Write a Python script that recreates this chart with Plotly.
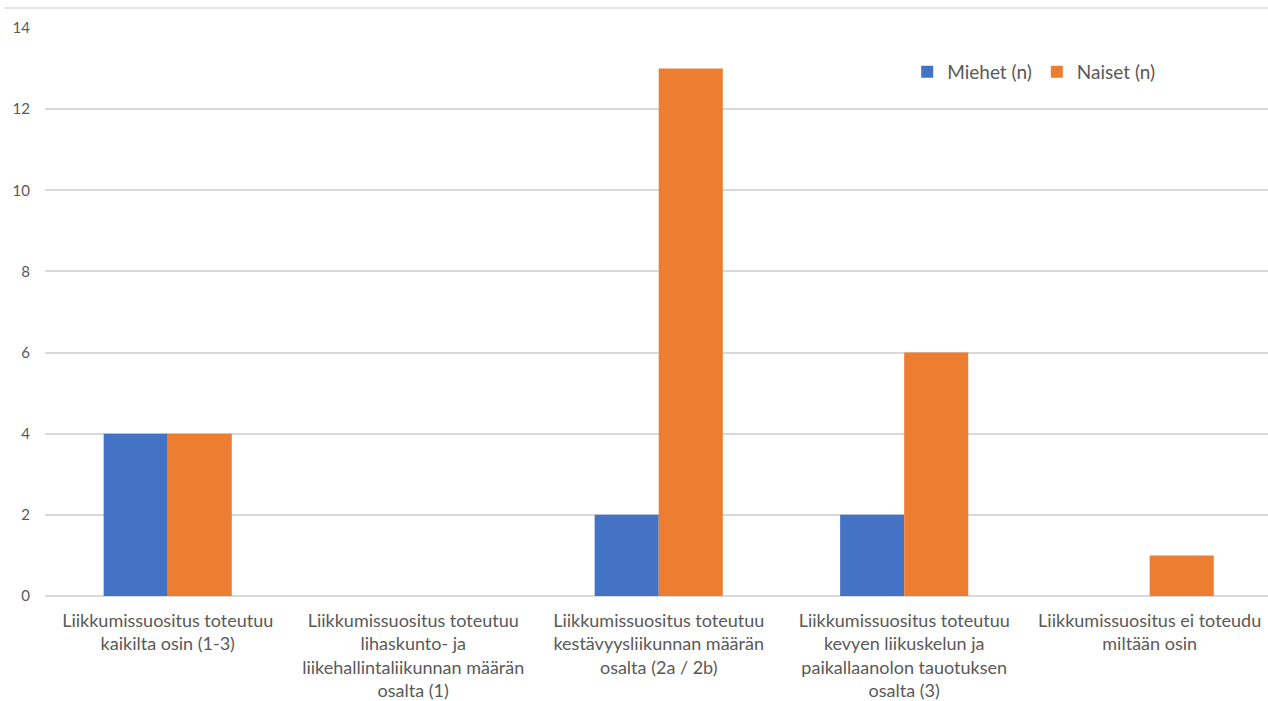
import plotly.graph_objects as go

categories = [
    "Liikkumissuositus toteutuu<br>kaikilta osin (1-3)",
    "Liikkumissuositus toteutuu<br>lihaskunto- ja<br>liikehallintaliikunnan määrän<br>osalta (1)",
    "Liikkumissuositus toteutuu<br>kestävyysliikunnan määrän<br>osalta (2a / 2b)",
    "Liikkumissuositus toteutuu<br>kevyen liikuskelun ja<br>paikallaanolon tauotuksen<br>osalta (3)",
    "Liikkumissuositus ei toteudu<br>miltään osin",
]
miehet = [4, 0, 2, 2, 0]
naiset = [4, 0, 13, 6, 1]
y_ticks = [0, 2, 4, 6, 8, 10, 12, 14]

FONT = "Lato, Open Sans, sans-serif"
GRAY = "#595959"

fig = go.Figure()
fig.add_trace(go.Bar(name="Miehet (n)", x=categories, y=miehet,
                     marker=dict(color="#4472C4", line=dict(width=0))))
fig.add_trace(go.Bar(name="Naiset (n)", x=categories, y=naiset,
                     marker=dict(color="#ED7D31", line=dict(width=0))))

fig.update_layout(
    width=1268, height=701,
    margin=dict(l=45, r=0, t=28, b=105),
    paper_bgcolor="white", plot_bgcolor="white",
    barmode="group", bargap=0.478, bargroupgap=0,
    font=dict(family=FONT, color=GRAY, size=18),
    showlegend=True,
    legend=dict(orientation="h", x=0.705, y=0.9225, xanchor="left", yanchor="middle",
                font=dict(size=19, color=GRAY), itemwidth=30,
                bgcolor="rgba(0,0,0,0)"),
    xaxis=dict(range=[-0.5, 4.482], showgrid=False, showline=False,
               zeroline=False, ticks="",
               tickfont=dict(size=18, color=GRAY), ticklabelstandoff=12,
               fixedrange=True),
    yaxis=dict(range=[0, 14], tickvals=y_ticks, showgrid=True,
               gridcolor="#d9d9d9", gridwidth=1.5, zeroline=True,
               zerolinecolor="#d9d9d9", zerolinewidth=1.5, showline=False,
               ticks="", tickfont=dict(size=15, color=GRAY),
               ticklabelstandoff=14, fixedrange=True),
    shapes=[dict(type="line", xref="paper", yref="paper",
                 x0=-0.033, x1=1.0, y0=1.0352, y1=1.0352,
                 line=dict(color="#d9d9d9", width=1.5))],
)

fig.write_html("out.html")
